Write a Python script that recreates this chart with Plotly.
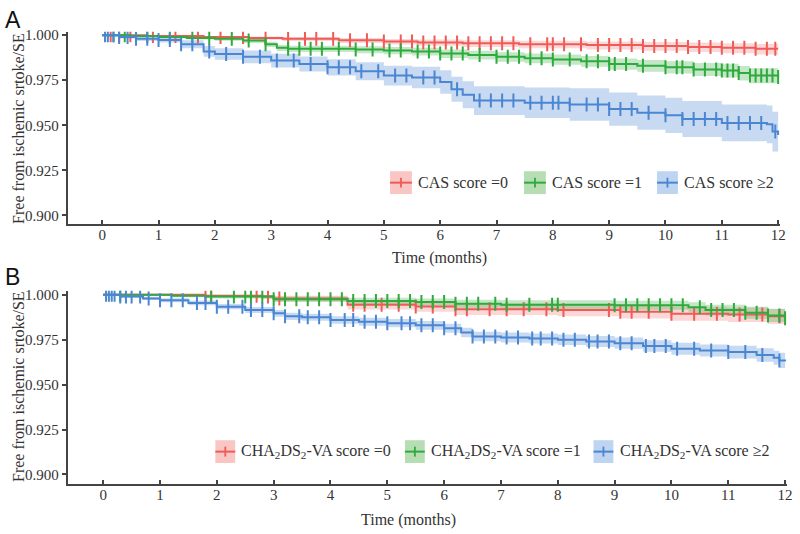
import numpy as np
import plotly.graph_objects as go

W, H = 800, 534
def px(x): return x / W
def py(y): return 1 - y / H

# ---------------- Panel A (CAS score) ----------------
a0_t  = [0, 0.8, 1.8, 2.6, 3.2, 4.2, 5.0, 5.6, 6.4, 7.4, 8.6, 9.6, 10.4, 11.0, 11.6, 12.0]
a0_s  = [1.000, 0.9995, 0.999, 0.9985, 0.998, 0.9972, 0.9965, 0.996, 0.9955, 0.995, 0.9945, 0.994, 0.9935, 0.993, 0.9925, 0.9925]
a0_lo = [1.000, 0.9990, 0.9982, 0.9975, 0.9968, 0.9957, 0.9948, 0.9941, 0.9935, 0.9928, 0.9921, 0.9914, 0.9907, 0.9900, 0.9893, 0.9892]
a0_hi = [1.000, 0.9999, 0.9996, 0.9993, 0.9990, 0.9984, 0.9979, 0.9976, 0.9972, 0.9969, 0.9965, 0.9962, 0.9959, 0.9955, 0.9951, 0.9952]
a0_cens = [0.15, 0.3, 0.5, 0.9, 1.3, 1.7, 2.1, 2.5, 2.9, 3.3, 3.6, 3.8, 4.1, 4.4, 4.7, 5.0, 5.3, 5.5, 5.7, 5.9,
           6.1, 6.3, 6.5, 6.7, 6.9, 7.1, 7.3, 7.6, 7.9, 8.0, 8.2, 8.5, 8.8, 9.0, 9.2, 9.4, 9.6, 9.8, 10.0,
           10.2, 10.4, 10.6, 10.8, 11.0, 11.2, 11.4, 11.6, 11.8, 11.95]

a1_t  = [0, 0.5, 1.0, 1.5, 2.0, 2.5, 2.9, 3.1, 3.3, 4.5, 5.0, 5.5, 6.0, 6.5, 7.0, 7.5, 8.0, 8.5, 9.0, 9.5, 10.0, 10.5, 11.0, 11.3, 11.5, 12.0]
a1_s  = [1.000, 0.9995, 0.999, 0.9985, 0.998, 0.997, 0.995, 0.993, 0.9925, 0.992, 0.9915, 0.991, 0.9898, 0.989, 0.988, 0.9872, 0.9865, 0.9855, 0.984, 0.983, 0.9822, 0.981, 0.9804, 0.979, 0.9776, 0.9768]
a1_lo = [1.000, 0.9990, 0.9983, 0.9976, 0.9969, 0.9957, 0.9935, 0.9913, 0.9907, 0.9900, 0.9894, 0.9888, 0.9874, 0.9865, 0.9853, 0.9844, 0.9836, 0.9825, 0.9808, 0.9797, 0.9787, 0.9773, 0.9765, 0.9749, 0.9733, 0.9720]
a1_hi = [1.000, 0.9999, 0.9996, 0.9993, 0.9990, 0.9982, 0.9964, 0.9946, 0.9942, 0.9939, 0.9935, 0.9931, 0.9921, 0.9914, 0.9906, 0.9899, 0.9893, 0.9884, 0.9871, 0.9862, 0.9856, 0.9846, 0.9842, 0.9829, 0.9817, 0.9812]
a1_cens = [0.2, 0.4, 0.8, 1.2, 1.6, 1.9, 2.3, 2.6, 2.9, 3.3, 3.5, 3.7, 3.9, 4.2, 4.5, 4.8, 5.1, 5.3, 5.6, 5.8,
           6.0, 6.2, 6.4, 6.7, 7.0, 7.2, 7.4, 7.6, 7.8, 8.0, 8.3, 8.6, 8.8, 9.0, 9.1, 9.3, 9.6, 10.0, 10.2,
           10.3, 10.5, 10.7, 10.9, 11.0, 11.1, 11.2, 11.3, 11.5, 11.6, 11.7, 11.8, 11.9, 12.0]

a2_t  = [0, 0.3, 0.6, 1.0, 1.4, 1.8, 2.0, 2.5, 3.0, 3.5, 4.0, 4.5, 5.0, 5.5, 6.0, 6.2, 6.4, 6.6, 7.5, 8.3, 9.0, 9.5, 10.0, 10.3, 11.0, 11.8, 11.9, 12.0]
a2_s  = [1.000, 0.999, 0.998, 0.9974, 0.995, 0.991, 0.9896, 0.988, 0.9859, 0.984, 0.9822, 0.980, 0.9776, 0.9765, 0.974, 0.970, 0.967, 0.9637, 0.9625, 0.9615, 0.959, 0.957, 0.9555, 0.9535, 0.9513, 0.9505, 0.9465, 0.9446]
a2_lo = [1.000, 0.9982, 0.9968, 0.9959, 0.9928, 0.9880, 0.9864, 0.9845, 0.9821, 0.9798, 0.9777, 0.9750, 0.9721, 0.9705, 0.9675, 0.9630, 0.9595, 0.9557, 0.9540, 0.9525, 0.9498, 0.9475, 0.9457, 0.9435, 0.9411, 0.9400, 0.9355, 0.9336]
a2_hi = [1.000, 0.9998, 0.9992, 0.9989, 0.9972, 0.9940, 0.9928, 0.9915, 0.9897, 0.9882, 0.9867, 0.9850, 0.9831, 0.9825, 0.9805, 0.9770, 0.9745, 0.9717, 0.9710, 0.9705, 0.9682, 0.9665, 0.9653, 0.9635, 0.9615, 0.9610, 0.9575, 0.9556]
a2_cens = [0.05, 0.1, 0.2, 0.3, 0.45, 0.6, 0.8, 1.0, 1.2, 1.4, 1.6, 1.9, 2.2, 2.5, 2.8, 3.1, 3.4, 3.7, 4.0, 4.2,
           4.4, 4.6, 4.9, 5.2, 5.4, 5.7, 5.9, 6.3, 6.7, 6.9, 7.1, 7.3, 7.6, 7.8, 8.0, 8.1, 8.3, 8.6, 8.8,
           9.0, 9.2, 9.4, 9.7, 10.0, 10.3, 10.5, 10.7, 10.9, 11.1, 11.3, 11.5, 11.7, 11.95]

# ---------------- Panel B (CHA2DS2-VA score) ----------------
b0_t  = [0, 1.8, 2.8, 3.0, 4.3, 5.5, 6.2, 8.0, 9.1, 10.0, 11.0, 11.7, 12.0]
b0_s  = [1.000, 0.9995, 0.999, 0.998, 0.9945, 0.9935, 0.992, 0.9915, 0.9905, 0.9895, 0.989, 0.988, 0.988]
b0_lo = [1.000, 0.9985, 0.9977, 0.9963, 0.9918, 0.9905, 0.9887, 0.9880, 0.9868, 0.9856, 0.9849, 0.9837, 0.9835]
b0_hi = [1.000, 1.000, 0.9999, 0.9995, 0.9970, 0.9963, 0.9951, 0.9948, 0.9940, 0.9932, 0.9929, 0.9921, 0.9923]
b0_cens = [1.8, 1.9, 2.7, 2.9, 3.1, 4.4, 4.6, 4.9, 5.2, 5.5, 5.8, 6.2, 6.4, 6.8, 7.1, 7.4, 7.8, 8.1, 8.9,
           9.1, 9.3, 9.6, 10.0, 10.4, 10.8, 11.2, 11.6, 11.9]

b1_t  = [0, 1.2, 1.8, 3.0, 4.3, 5.5, 6.2, 7.0, 9.0, 10.3, 10.6, 11.3, 11.7, 12.0]
b1_s  = [1.000, 0.9995, 0.999, 0.9975, 0.9965, 0.996, 0.995, 0.9945, 0.9942, 0.993, 0.9915, 0.990, 0.9885, 0.987]
b1_lo = [1.000, 0.9987, 0.9980, 0.9960, 0.9947, 0.9940, 0.9928, 0.9921, 0.9917, 0.9902, 0.9885, 0.9867, 0.9848, 0.9825]
b1_hi = [1.000, 1.000, 0.9999, 0.9990, 0.9983, 0.9980, 0.9972, 0.9969, 0.9967, 0.9958, 0.9945, 0.9933, 0.9922, 0.9915]
b1_cens = [0.3, 1.9, 2.3, 2.5, 2.6, 2.8, 3.0, 3.2, 3.4, 3.6, 3.8, 4.0, 4.2, 4.4, 4.6, 4.8, 5.0, 5.2, 5.4,
           5.6, 5.8, 6.0, 6.2, 6.4, 6.6, 6.9, 7.1, 7.5, 7.9, 8.0, 9.0, 9.2, 9.4, 9.6, 9.8, 10.0, 10.2,
           10.5, 10.7, 10.9, 11.1, 11.3, 11.5, 11.7, 11.9, 12.0]

b2_t  = [0, 0.3, 0.7, 1.0, 1.5, 2.0, 2.5, 3.0, 3.2, 3.5, 4.0, 4.5, 5.0, 5.5, 6.0, 6.3, 6.5, 7.0, 7.5, 8.0, 8.5, 9.0, 9.5, 10.0, 10.5, 11.0, 11.5, 11.8, 11.9, 12.0]
b2_s  = [1.000, 0.999, 0.998, 0.997, 0.9955, 0.9934, 0.9915, 0.9897, 0.988, 0.9875, 0.986, 0.985, 0.9842, 0.983, 0.9814, 0.979, 0.9768, 0.9762, 0.9757, 0.975, 0.974, 0.9731, 0.9715, 0.970, 0.969, 0.9681, 0.9665, 0.965, 0.9635, 0.963]
b2_lo = [1.000, 0.9984, 0.9971, 0.9959, 0.9942, 0.9919, 0.9898, 0.9878, 0.9860, 0.9855, 0.9839, 0.9828, 0.9819, 0.9806, 0.9789, 0.9764, 0.9741, 0.9734, 0.9729, 0.9721, 0.9710, 0.9700, 0.9683, 0.9667, 0.9656, 0.9646, 0.9628, 0.9611, 0.9593, 0.9585]
b2_hi = [1.000, 0.9996, 0.9989, 0.9981, 0.9968, 0.9949, 0.9932, 0.9916, 0.9900, 0.9895, 0.9881, 0.9872, 0.9865, 0.9854, 0.9839, 0.9816, 0.9795, 0.9790, 0.9785, 0.9779, 0.9770, 0.9762, 0.9747, 0.9733, 0.9724, 0.9716, 0.9702, 0.9689, 0.9677, 0.9675]
b2_cens = [0.05, 0.1, 0.15, 0.2, 0.3, 0.4, 0.5, 0.65, 0.8, 1.0, 1.2, 1.4, 1.65, 1.8, 2.0, 2.2, 2.45, 2.6, 2.8,
           3.0, 3.2, 3.45, 3.6, 3.8, 4.0, 4.25, 4.4, 4.6, 4.8, 5.0, 5.25, 5.4, 5.6, 5.8, 6.0, 6.2, 6.5, 6.7,
           6.9, 7.1, 7.3, 7.55, 7.7, 7.9, 8.1, 8.3, 8.55, 8.7, 8.9, 9.1, 9.3, 9.55, 9.7, 9.9, 10.1, 10.4,
           10.7, 11.0, 11.3, 11.6, 11.9]

legend_a = ["CAS score =0", "CAS score =1", "CAS score \u22652"]
legend_b = ["CHA<sub>2</sub>DS<sub>2</sub>-VA score =0", "CHA<sub>2</sub>DS<sub>2</sub>-VA score =1",
            "CHA<sub>2</sub>DS<sub>2</sub>-VA score \u22652"]

x_ticks = list(range(0, 13))
y_ticks = [0.900, 0.925, 0.950, 0.975, 1.000]

LINE = ["#EF5B57", "#2FAA3C", "#4A86D2"]
BAND = ["rgba(245,110,110,0.28)", "rgba(60,175,70,0.30)", "rgba(80,140,215,0.32)"]
BOX = ["#F9C6C4", "#B7DDB5", "#BED4F0"]

SERIF = "Liberation Serif, Times New Roman, serif"
TXT = "#333333"

fig = go.Figure()

def add_bands(series, xa, ya):
    for (t, s, lo, hi, c), band in zip(series, BAND):
        fig.add_trace(go.Scatter(x=t, y=lo, mode="lines", line=dict(width=0, shape="hv"),
                                 xaxis=xa, yaxis=ya, showlegend=False, hoverinfo="skip"))
        fig.add_trace(go.Scatter(x=t, y=hi, mode="lines", line=dict(width=0, shape="hv"),
                                 fill="tonexty", fillcolor=band,
                                 xaxis=xa, yaxis=ya, showlegend=False, hoverinfo="skip"))

def add_lines(series, xa, ya):
    for (t, s, lo, hi, c), col in zip(series, LINE):
        fig.add_trace(go.Scatter(x=t, y=s, mode="lines", line=dict(width=2, color=col, shape="hv"),
                                 xaxis=xa, yaxis=ya, showlegend=False))
        ta = np.array(t); sa = np.array(s); ca = np.array(c)
        idx = np.searchsorted(ta, ca, side="right") - 1
        fig.add_trace(go.Scatter(x=ca, y=sa[idx], mode="markers",
                                 marker=dict(symbol="line-ns", size=10, color=col,
                                             line=dict(width=2, color=col)),
                                 xaxis=xa, yaxis=ya, showlegend=False))

ser_a = [(a0_t, a0_s, a0_lo, a0_hi, a0_cens), (a1_t, a1_s, a1_lo, a1_hi, a1_cens),
         (a2_t, a2_s, a2_lo, a2_hi, a2_cens)]
ser_b = [(b0_t, b0_s, b0_lo, b0_hi, b0_cens), (b1_t, b1_s, b1_lo, b1_hi, b1_cens),
         (b2_t, b2_s, b2_lo, b2_hi, b2_cens)]

add_bands(ser_a, "x", "y")
add_bands(ser_b, "x2", "y2")
add_lines(ser_a, "x", "y")
add_lines(ser_b, "x2", "y2")

xcommon = dict(tickvals=x_ticks, ticks="inside", ticklen=5, tickwidth=1.5, tickcolor="#444",
               showline=True, linecolor="#444", linewidth=1.5, showgrid=False, zeroline=False,
               tickfont=dict(family=SERIF, size=15, color=TXT), ticklabelstandoff=-4)
ycommon = dict(tickvals=y_ticks, tickformat=".3f", ticks="outside", ticklen=5, tickwidth=1.5,
               tickcolor="#444", showline=True, linecolor="#444", linewidth=1.5, showgrid=False,
               zeroline=False, tickfont=dict(family=SERIF, size=15, color=TXT))

fig.update_layout(
    width=W, height=H, margin=dict(l=0, r=0, t=0, b=0),
    paper_bgcolor="white", plot_bgcolor="white", showlegend=False,
    xaxis=dict(domain=[px(69), px(786)], range=[-0.599, 12.035], anchor="y", **xcommon),
    yaxis=dict(domain=[py(222), py(28)], range=[0.895, 1.0019], anchor="x", **ycommon),
    xaxis2=dict(domain=[px(69), px(793)], range=[-0.611, 12.035], anchor="y2", **xcommon),
    yaxis2=dict(domain=[py(484), py(289)], range=[0.8945, 1.0022], anchor="x2", **ycommon),
)

ann = []
shapes = []
def text(x, y, s, size=16, anchor="center", angle=0, family=SERIF, color=TXT):
    ann.append(dict(x=px(x), y=py(y), xref="paper", yref="paper", text=s, showarrow=False,
                    xanchor=anchor, yanchor="middle", textangle=angle,
                    font=dict(family=family, size=size, color=color)))

text(13, 16, "A", size=23, family="Liberation Sans, Arial, sans-serif", color="#111")
text(13, 275, "B", size=23, family="Liberation Sans, Arial, sans-serif", color="#111")
text(18, 125, "Free from ischemic srtoke/SE", angle=-90)
text(18, 385, "Free from ischemic srtoke/SE", angle=-90)
text(443, 256, "Time (months)")
text(412, 520, "Time (months)")

def legend_item(x0, x1, yc, tx, label, i):
    shapes.append(dict(type="rect", xref="paper", yref="paper", x0=px(x0), x1=px(x1),
                       y0=py(yc + 11.5), y1=py(yc - 11.5), fillcolor=BOX[i], line=dict(width=0), layer="above"))
    shapes.append(dict(type="line", xref="paper", yref="paper", x0=px(x0), x1=px(x1),
                       y0=py(yc), y1=py(yc), line=dict(color=LINE[i], width=2), layer="above"))
    xm = (x0 + x1) / 2
    shapes.append(dict(type="line", xref="paper", yref="paper", x0=px(xm), x1=px(xm),
                       y0=py(yc - 5), y1=py(yc + 5), line=dict(color=LINE[i], width=1.8), layer="above"))
    text(tx, yc, label, anchor="left")

legend_item(393, 415, 180, 419, legend_a[0], 0)
legend_item(528, 550, 180, 554, legend_a[1], 1)
legend_item(662, 683, 180, 687, legend_a[2], 2)
legend_item(217, 237, 451, 241, legend_b[0], 0)
legend_item(408, 428, 451, 432, legend_b[1], 1)
legend_item(598, 618, 451, 623, legend_b[2], 2)

fig.update_layout(annotations=ann, shapes=shapes)
fig.write_html("out.html", config={"displayModeBar": False},
               post_script="document.body.style.margin='0';document.body.style.padding='0';"
                           "document.documentElement.style.overflow='hidden';")
